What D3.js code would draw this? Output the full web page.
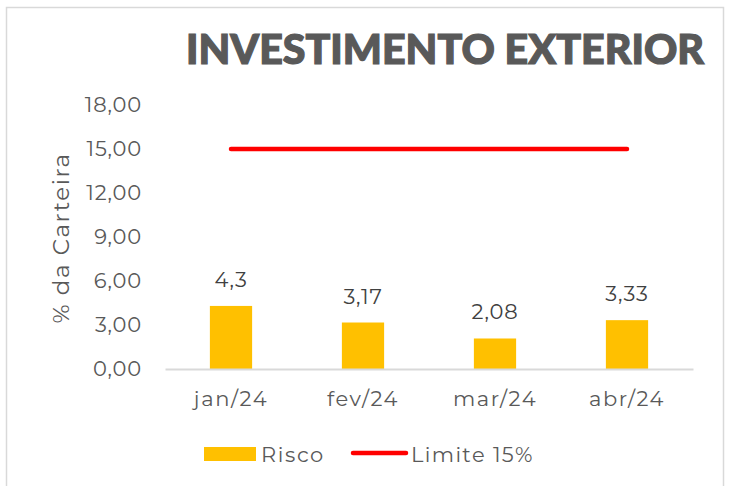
<!DOCTYPE html>
<html>
<head>
<meta charset="utf-8">
<script src="https://cdn.jsdelivr.net/npm/d3@7"></script>
<style>
  body { margin: 0; background: #fff; }
  svg { display: block; font-family: "Montserrat", "Noto Sans", sans-serif; }
</style>
</head>
<body>
<svg id="chart"></svg>
<script>
// ---------- data ----------
var months = ["jan/24", "fev/24", "mar/24", "abr/24"];
var risco = [4.3, 3.17, 2.08, 3.33];
var riscoLabels = ["4,3", "3,17", "2,08", "3,33"];
var limite = [15, 15, 15, 15];
var yTicks = [0, 3, 6, 9, 12, 15, 18];

var screen = {width: 731, height: 486};
var margins = {left: 165, right: 38, top: 105, bottom: 117};
var graph = {
  width: screen.width - margins.left - margins.right,
  height: screen.height - margins.top - margins.bottom
};

var svg = d3.select("#chart")
  .attr("width", screen.width)
  .attr("height", screen.height);

// outer frame (no bottom edge visible)
svg.append("path")
  .attr("d", "M6.5,486 V7.5 H723.5 V486")
  .attr("fill", "none")
  .attr("stroke", "#d9d9d9")
  .attr("stroke-width", 1.5);

// title
svg.append("text")
  .text("INVESTIMENTO EXTERIOR")
  .attr("x", 186)
  .attr("y", 64)
  .attr("textLength", 518)
  .attr("lengthAdjust", "spacingAndGlyphs")
  .style("font-family", "Lato, sans-serif")
  .style("font-weight", 900)
  .style("font-size", "41px")
  .attr("fill", "#595959")
  .attr("stroke", "#595959")
  .attr("stroke-width", 1.2);

var xScale = d3.scaleBand()
  .domain(months)
  .range([0, graph.width])
  .paddingInner(0.68)
  .paddingOuter(0.34);

var yScale = d3.scaleLinear()
  .domain([0, 18])
  .range([graph.height, 0]);

var target = svg.append("g")
  .attr("transform", "translate(" + margins.left + "," + margins.top + ")");

// y axis labels
var yAxis = d3.axisLeft(yScale)
  .tickValues(yTicks)
  .tickSize(0)
  .tickPadding(23)
  .tickFormat(function (d) { return d3.format(".2f")(d).replace(".", ","); });

target.append("g")
  .call(yAxis)
  .call(function (g) { g.select(".domain").remove(); })
  .selectAll("text")
  .style("font-family", "Montserrat, 'Noto Sans', sans-serif")
  .style("font-size", "21px")
  .style("letter-spacing", "0.8px")
  .attr("fill", "#595959");

// bars
target.selectAll("rect.bar")
  .data(risco)
  .enter()
  .append("rect")
  .classed("bar", true)
  .attr("x", function (d, i) { return xScale(months[i]); })
  .attr("y", function (d) { return yScale(d); })
  .attr("width", xScale.bandwidth())
  .attr("height", function (d) { return graph.height - yScale(d); })
  .attr("fill", "#ffc000");

// value labels
target.selectAll("text.val")
  .data(risco)
  .enter()
  .append("text")
  .classed("val", true)
  .text(function (d, i) { return riscoLabels[i]; })
  .attr("x", function (d, i) { return xScale(months[i]) + xScale.bandwidth() / 2; })
  .attr("y", function (d) { return yScale(d) - 19; })
  .attr("text-anchor", "middle")
  .style("font-size", "21px")
  .style("letter-spacing", "0.8px")
  .attr("fill", "#404040");

// x axis
var xAxis = d3.axisBottom(xScale).tickSize(0).tickPadding(22);
target.append("g")
  .attr("transform", "translate(0," + graph.height + ")")
  .call(xAxis)
  .call(function (g) {
    g.select(".domain").attr("stroke", "#d9d9d9").attr("stroke-width", 2);
  })
  .selectAll("text")
  .style("font-family", "Montserrat, 'Noto Sans', sans-serif")
  .style("font-size", "21px")
  .style("letter-spacing", "1.6px")
  .attr("fill", "#595959");

// limit line
var line = d3.line()
  .x(function (d, i) { return xScale(months[i]) + xScale.bandwidth() / 2; })
  .y(function (d) { return yScale(d); });

target.append("path")
  .datum(limite)
  .attr("d", line)
  .attr("fill", "none")
  .attr("stroke", "#ff0000")
  .attr("stroke-width", 4.5)
  .attr("stroke-linecap", "round");

// y label
svg.append("text")
  .text("% da Carteira")
  .attr("text-anchor", "middle")
  .attr("transform", "translate(69,238) rotate(-90)")
  .style("font-size", "23px")
  .style("letter-spacing", "1.6px")
  .attr("fill", "#595959");

// legend
var legend = svg.append("g");
legend.append("rect")
  .attr("x", 204).attr("y", 447)
  .attr("width", 52).attr("height", 14)
  .attr("fill", "#ffc000");
legend.append("text")
  .text("Risco")
  .attr("x", 261).attr("y", 462)
  .style("font-size", "21px")
  .style("letter-spacing", "1.6px")
  .attr("fill", "#595959");
legend.append("line")
  .attr("x1", 353).attr("x2", 406)
  .attr("y1", 453).attr("y2", 453)
  .attr("stroke", "#ff0000")
  .attr("stroke-width", 4.5)
  .attr("stroke-linecap", "round");
legend.append("text")
  .text("Limite 15%")
  .attr("x", 411).attr("y", 462)
  .style("font-size", "21px")
  .style("letter-spacing", "1.4px")
  .attr("fill", "#595959");
</script>
</body>
</html>
